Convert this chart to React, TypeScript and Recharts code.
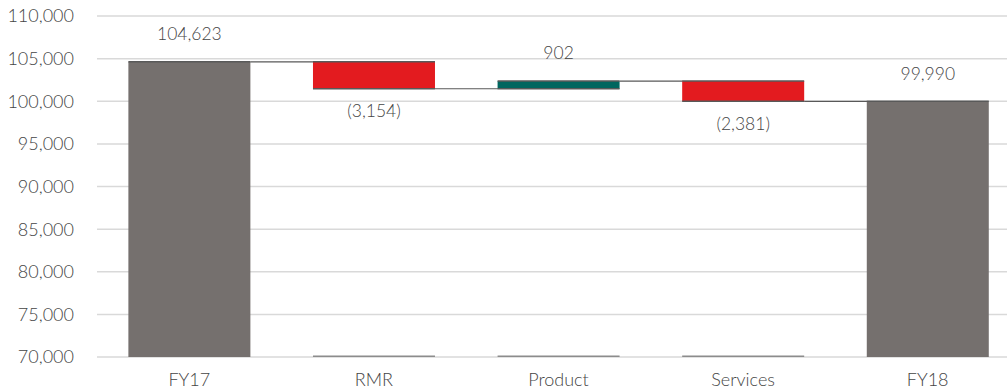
import React from 'react';
import { BarChart, Bar, XAxis, YAxis, CartesianGrid, LabelList } from 'recharts';

const categories = ['FY17', 'RMR', 'Product', 'Services', 'FY18'];
const changes = [104623, -3154, 902, -2381, 99990];
const isTotal = [true, false, false, false, true];
const yTicks = [70000, 75000, 80000, 85000, 90000, 95000, 100000, 105000, 110000];

const GRAY = '#75706e';
const RED = '#e31b1f';
const TEAL = '#00665f';
const EDGE = '#595959';
const TEXT = '#454545';
const FONT = 'Lato, "Open Sans", sans-serif';
const CAT_GAP = 0.17;

// build waterfall rows: invisible base + visible step
let running = 0;
const data = categories.map((name, i) => {
  const v = changes[i];
  let base: number;
  let step: number;
  if (isTotal[i]) {
    base = 0;
    step = v;
    running = v;
  } else {
    const next = running + v;
    base = Math.min(running, next);
    step = Math.abs(v);
    running = next;
  }
  return { name, base, step, change: v, total: isTotal[i], last: i === categories.length - 1 };
});

const fmt = (v: number) => (v < 0 ? `(${Math.abs(v).toLocaleString('en-US')})` : v.toLocaleString('en-US'));

const StepShape = (props: any) => {
  const { x, y, width, height, payload } = props;
  const fill = payload.total ? GRAY : payload.change < 0 ? RED : TEAL;
  const gap = (width * 2 * CAT_GAP) / (1 - 2 * CAT_GAP);
  const endY = payload.change < 0 && !payload.total ? y + height : y;
  return (
    <g>
      <rect x={x} y={y} width={width} height={height} fill={fill} />
      <line x1={x} x2={x + width} y1={y} y2={y} stroke={EDGE} strokeWidth={1.5} />
      {!payload.total && (
        <line x1={x} x2={x + width} y1={y + height} y2={y + height} stroke={EDGE} strokeWidth={1.5} />
      )}
      {!payload.last && (
        <line x1={x + width} x2={x + width + gap} y1={endY} y2={endY} stroke={EDGE} strokeWidth={1.2} />
      )}
    </g>
  );
};

// base bar is invisible; only a thin edge on the axis floor for the step items
const BaseShape = (props: any) => {
  const { x, width, payload, background } = props;
  if (payload.total || !background) return null;
  const by = background.y + background.height - 0.75;
  return <line x1={x} x2={x + width} y1={by} y2={by} stroke="#8c8c8c" strokeWidth={1.5} />;
};

const StepLabel = (props: any) => {
  const { x, y, width, height, index } = props;
  const row = data[index];
  const below = row.change < 0 && !row.total;
  const ty = below ? y + height + 24 : y - 26;
  return (
    <text x={x + width / 2} y={ty} textAnchor="middle" dominantBaseline="middle" fill={TEXT} fontSize={17.5} fontFamily={FONT} fontWeight={300}>
      {fmt(row.change)}
    </text>
  );
};

const App: React.FC = () => {
  return (
    <div style={{ position: 'absolute', left: 0, top: 0, width: 1007, height: 392, overflow: 'hidden', background: '#fff' }}>
      <BarChart
        width={1020}
        height={392}
        data={data}
        margin={{ top: 16, right: 0, bottom: 5, left: 0 }}
        barCategoryGap={`${CAT_GAP * 100}%`}
      >
        <CartesianGrid vertical={false} stroke="#d9d9d9" strokeWidth={1.5} />
        <XAxis
          dataKey="name"
          axisLine={false}
          tickLine={false}
          height={30}
          tickMargin={10}
          tick={{ fill: TEXT, fontSize: 18, fontFamily: FONT, fontWeight: 300 }}
        />
        <YAxis
          width={97}
          domain={[70000, 110000]}
          ticks={yTicks}
          allowDataOverflow
          axisLine={false}
          tickLine={false}
          tickMargin={17}
          tickFormatter={(v: number) => v.toLocaleString('en-US')}
          tick={{ fill: TEXT, fontSize: 18, fontFamily: FONT, fontWeight: 300 }}
        />
        <Bar
          dataKey="base"
          stackId="w"
          fill="transparent"
          background={{ fill: 'transparent' }}
          shape={BaseShape}
          isAnimationActive={false}
        />
        <Bar dataKey="step" stackId="w" shape={StepShape} isAnimationActive={false}>
          <LabelList dataKey="change" content={StepLabel} />
        </Bar>
      </BarChart>
    </div>
  );
};

export default App;
